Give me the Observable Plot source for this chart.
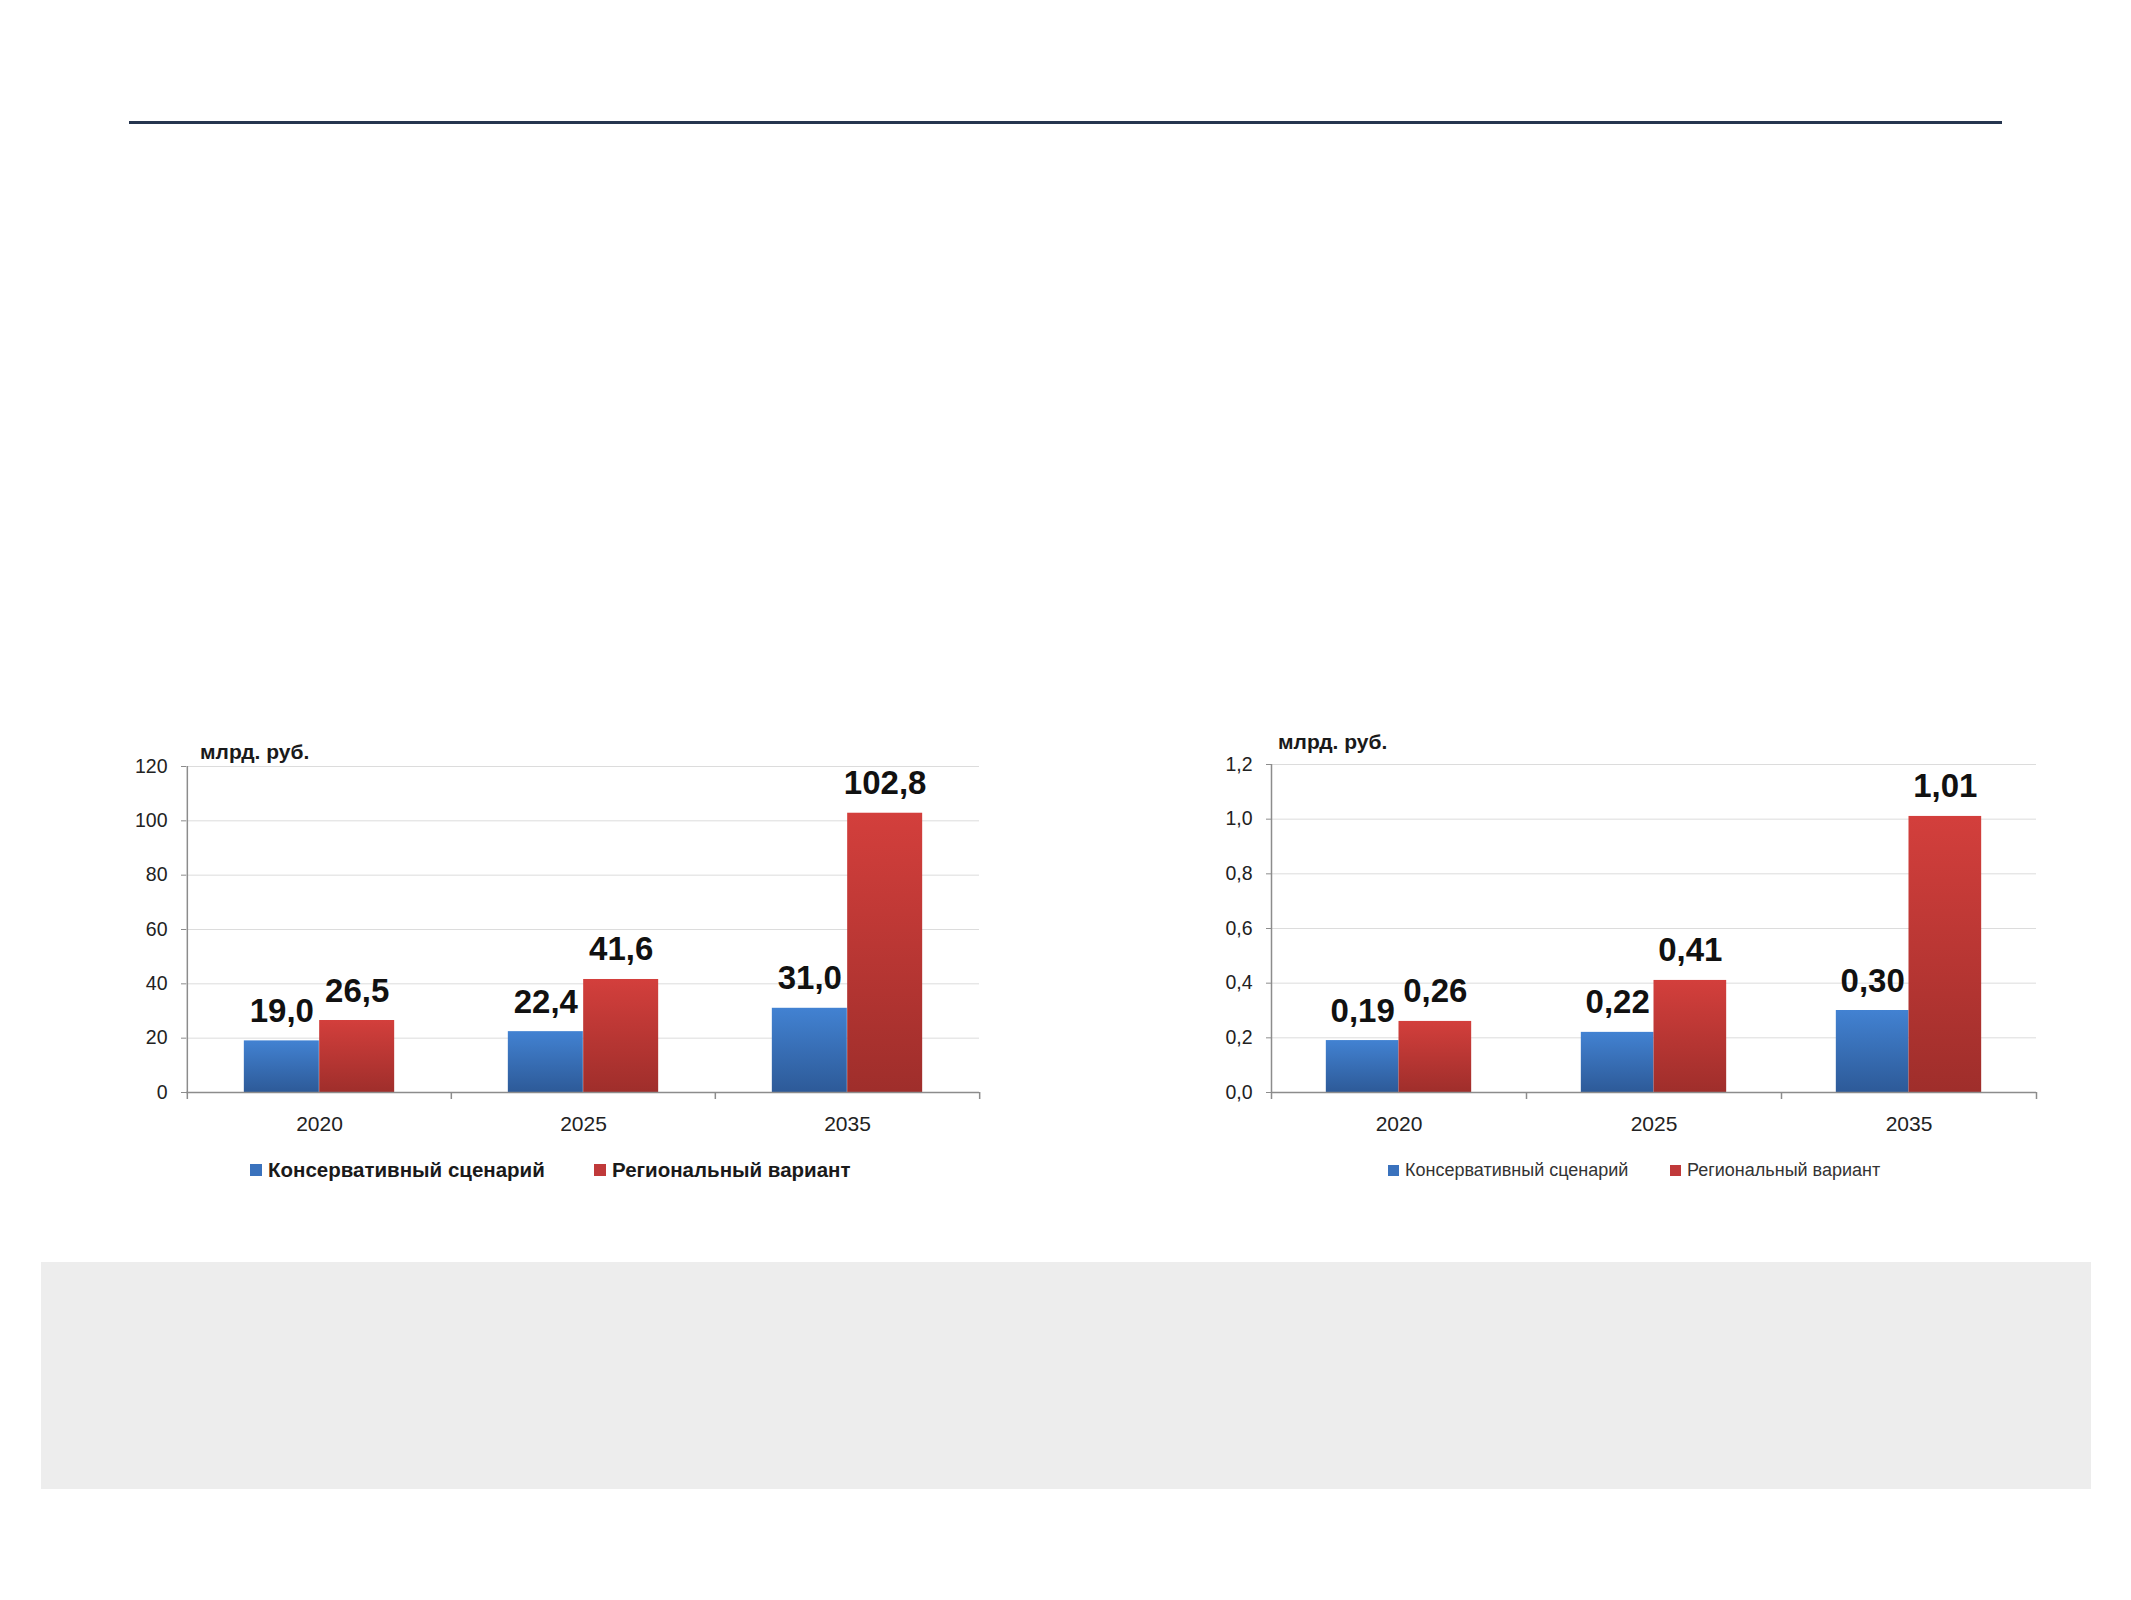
<!DOCTYPE html>
<html>
<head>
<meta charset="utf-8">
<script src="https://cdn.jsdelivr.net/npm/d3@7"></script>
<script src="https://cdn.jsdelivr.net/npm/@observablehq/plot@0.6"></script>
<style>
  body { margin: 0; background: #fff; font-family: "Liberation Sans", Arial, sans-serif; }
  #page { position: relative; width: 2131px; height: 1600px; overflow: hidden; background: #fff; }
  .abs { position: absolute; }
  .unit { position: absolute; font-weight: bold; font-size: 21px; color: #1a1a1a; line-height: 1; white-space: nowrap; }
  .leg { position: absolute; display: flex; align-items: center; white-space: nowrap; line-height: 1; }
  .sw { display: inline-block; margin-right: 6px; }
</style>
</head>
<body>
<div id="page">
  <div class="abs" style="left:129px; top:121px; width:1873px; height:3px; background:#26354f;"></div>
  <div class="abs" style="left:41px; top:1262px; width:2050px; height:227px; background:#ededed;"></div>
  <div id="chartL" class="abs" style="left:100px; top:730px;"></div>
  <div id="chartR" class="abs" style="left:1180px; top:730px;"></div>
  <div class="unit" style="left:200px; top:741px;">млрд. руб.</div>
  <div class="unit" style="left:1278px; top:731px;">млрд. руб.</div>
  <div id="legL"></div>
  <div id="legR"></div>
</div>
<script>
// ---- data ----
const years = ["2020", "2025", "2035"];
const seriesNames = ["Консервативный сценарий", "Региональный вариант"];
const consRub = [19.0, 22.4, 31.0];
const regRub = [26.5, 41.6, 102.8];
const consShare = [0.19, 0.22, 0.30];
const regShare = [0.26, 0.41, 1.01];
const ticksRub = [0, 20, 40, 60, 80, 100, 120];
const ticksShare = [0, 0.2, 0.4, 0.6, 0.8, 1.0, 1.2];

const comma = (v, digits) => v.toFixed(digits).replace(".", ",");

function makeChart(cfg) {
  const {id, cons, reg, ticks, yFmt, vFmt, width, height, mL, mR, mT, mB} = cfg;
  const bw = (width - mL - mR) / years.length;
  const consData = years.map((y, i) => ({year: y, value: cons[i]}));
  const regData = years.map((y, i) => ({year: y, value: reg[i]}));
  const gradients = () => {
    const defs = d3.create("svg:defs");
    const gb = defs.append("linearGradient").attr("id", id + "-b").attr("x1", 0).attr("y1", 0).attr("x2", 0).attr("y2", 1);
    gb.append("stop").attr("offset", "0%").attr("stop-color", "#4282d2");
    gb.append("stop").attr("offset", "100%").attr("stop-color", "#2d5a98");
    const gr = defs.append("linearGradient").attr("id", id + "-r").attr("x1", 0).attr("y1", 0).attr("x2", 0).attr("y2", 1);
    gr.append("stop").attr("offset", "0%").attr("stop-color", "#d33f3c");
    gr.append("stop").attr("offset", "100%").attr("stop-color", "#9f2e2b");
    return defs.node();
  };
  const axisColor = "#8c8c8c";
  return Plot.plot({
    width, height,
    marginLeft: mL, marginRight: mR, marginTop: mT, marginBottom: mB,
    style: {fontFamily: "'Liberation Sans', Arial, sans-serif", fontSize: "19px", color: "#222", background: "transparent"},
    x: {type: "band", domain: years, padding: 0, label: null},
    y: {domain: [ticks[0], ticks[ticks.length - 1]], label: null},
    marks: [
      gradients,
      Plot.gridY(ticks, {stroke: "#dcdcdc", strokeOpacity: 1}),
      Plot.barY(consData, {x: "year", y: "value", fill: `url(#${id}-b)`, insetLeft: 0.215 * bw, insetRight: 0.5 * bw}),
      Plot.barY(regData, {x: "year", y: "value", fill: `url(#${id}-r)`, insetLeft: 0.5 * bw, insetRight: 0.215 * bw}),
      Plot.ruleY([ticks[0]], {stroke: axisColor, strokeWidth: 1.5}),
      Plot.ruleX([years[0]], {dx: -bw / 2, insetBottom: -7, stroke: axisColor, strokeWidth: 1.5}),
      Plot.ruleX(years.slice(1), {x: d => d, dx: -bw / 2, y1: ticks[0], y2: ticks[0], insetBottom: -7, stroke: axisColor, strokeWidth: 1.5}),
      Plot.ruleX(years.slice(-1), {x: d => d, dx: bw / 2, y1: ticks[0], y2: ticks[0], insetBottom: -7, stroke: axisColor, strokeWidth: 1.5}),
      Plot.axisY({ticks, tickFormat: yFmt, tickSize: 5, tickPadding: 14, stroke: axisColor, fill: "#222", fontSize: 19.5, label: null}),
      Plot.axisX({tickSize: 0, tickPadding: 24, fill: "#222", fontSize: 21, label: null}),
      Plot.text(consData, {x: "year", y: "value", text: d => vFmt(d.value), dx: -0.1425 * bw, dy: -19, lineAnchor: "bottom", fontSize: 33, fontWeight: "bold", fill: "#111"}),
      Plot.text(regData, {x: "year", y: "value", text: d => vFmt(d.value), dx: 0.1425 * bw, dy: -19, lineAnchor: "bottom", fontSize: 33, fontWeight: "bold", fill: "#111"})
    ]
  });
}

document.getElementById("chartL").append(makeChart({
  id: "gl", cons: consRub, reg: regRub, ticks: ticksRub,
  yFmt: d => String(d), vFmt: v => comma(v, 1),
  width: 900, height: 415, mL: 86, mR: 21, mT: 36, mB: 53
}));
document.getElementById("chartR").append(makeChart({
  id: "gr", cons: consShare, reg: regShare, ticks: ticksShare,
  yFmt: d => comma(d, 1), vFmt: v => comma(v, 2),
  width: 900, height: 415, mL: 91, mR: 44, mT: 34, mB: 53
}));

function legend(items) {
  items.forEach(it => {
    const el = document.createElement("div");
    el.className = "leg";
    el.style.left = it.left + "px";
    el.style.top = (it.cy - it.size / 2) + "px";
    el.style.fontSize = it.fontSize + "px";
    el.style.fontWeight = it.bold ? "bold" : "normal";
    el.style.color = it.color;
    el.style.height = it.size + "px";
    const sw = document.createElement("span");
    sw.className = "sw";
    sw.style.width = it.sw + "px";
    sw.style.height = it.sw + "px";
    sw.style.background = it.fill;
    const t = document.createElement("span");
    t.textContent = it.label;
    el.append(sw, t);
    document.getElementById("page").append(el);
  });
}
legend([
  {left: 250, cy: 1170, size: 22, fontSize: 20.5, bold: true, color: "#1a1a1a", sw: 12, fill: "#3a72bd", label: seriesNames[0]},
  {left: 594, cy: 1170, size: 22, fontSize: 20.5, bold: true, color: "#1a1a1a", sw: 12, fill: "#c0393a", label: seriesNames[1]},
  {left: 1388, cy: 1170, size: 20, fontSize: 18, bold: false, color: "#333", sw: 11, fill: "#3a72bd", label: seriesNames[0]},
  {left: 1670, cy: 1170, size: 20, fontSize: 18, bold: false, color: "#333", sw: 11, fill: "#c0393a", label: seriesNames[1]}
]);
</script>
</body>
</html>
